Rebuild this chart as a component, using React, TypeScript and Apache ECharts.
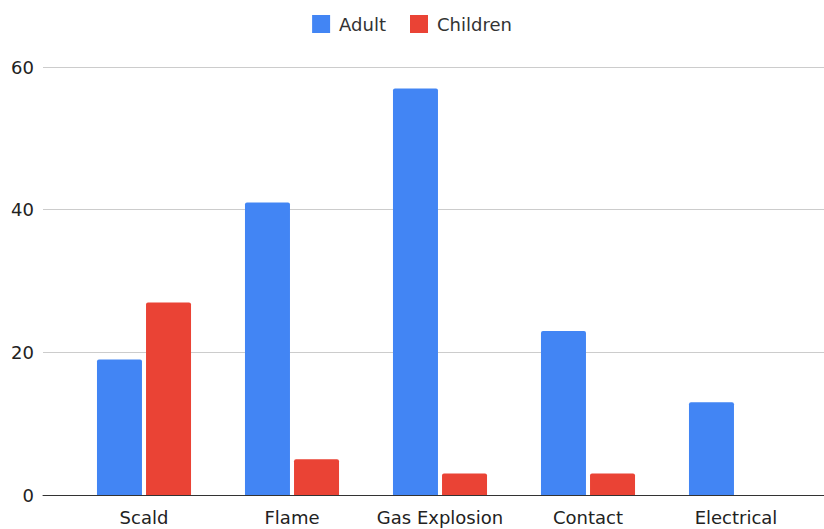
import React, { useEffect, useRef } from "react";
import * as echarts from "echarts";

const categories = ["Scald", "Flame", "Gas Explosion", "Contact", "Electrical"];
const adult = [19, 41, 57, 23, 13];
const children = [27, 5, 3, 3, 0];
const yTicks = [0, 20, 40, 60];

export default function App() {
  const ref = useRef<HTMLDivElement>(null);
  useEffect(() => {
    if (!ref.current) return;
    const chart = echarts.init(ref.current, undefined, { renderer: "svg" });
    const font = "DejaVu Sans";
    chart.setOption({
      animation: false,
      backgroundColor: "#ffffff",
      textStyle: { fontFamily: font },
      legend: {
        top: 10,
        left: "center",
        itemWidth: 18,
        itemHeight: 18,
        itemGap: 24,
        icon: "rect",
        textStyle: { fontSize: 18, color: "#333", fontFamily: font, padding: [0, 0, 0, 4] },
        data: ["Adult", "Children"],
      },
      grid: [
        { left: 43, right: 0, top: 67, bottom: 34, containLabel: false },
        { left: 70, right: 14, top: 67, bottom: 34, containLabel: false },
      ],
      xAxis: [
        {
          gridIndex: 0,
          type: "value",
          min: 0,
          max: 1,
          axisLine: { show: true, onZero: false, lineStyle: { color: "#333", width: 1 } },
          axisTick: { show: false },
          axisLabel: { show: false },
          splitLine: { show: false },
        },
        {
          gridIndex: 1,
          type: "category",
          data: categories,
          axisLine: { show: false },
          axisTick: { show: false },
          axisLabel: { fontSize: 18, color: "#222", margin: 13, fontFamily: font, interval: 0 },
        },
      ],
      yAxis: [
        {
          gridIndex: 0,
          type: "value",
          min: yTicks[0],
          max: yTicks[yTicks.length - 1],
          interval: 20,
          axisLine: { show: false },
          axisTick: { show: false },
          axisLabel: { fontSize: 18, color: "#222", margin: 9, fontFamily: font },
          splitLine: { lineStyle: { color: "#cccccc", width: 1 } },
        },
        {
          gridIndex: 1,
          type: "value",
          min: yTicks[0],
          max: yTicks[yTicks.length - 1],
          interval: 20,
          show: false,
          splitLine: { show: false },
        },
      ],
      series: [
        {
          name: "Adult",
          type: "bar",
          xAxisIndex: 1,
          yAxisIndex: 1,
          data: adult,
          barWidth: 45,
          barGap: "9%",
          itemStyle: { color: "#4285F4", borderRadius: [2, 2, 0, 0] },
        },
        {
          name: "Children",
          type: "bar",
          xAxisIndex: 1,
          yAxisIndex: 1,
          data: children,
          barWidth: 45,
          barGap: "9%",
          itemStyle: { color: "#EA4335", borderRadius: [2, 2, 0, 0] },
        },
      ],
    });
    return () => chart.dispose();
  }, []);
  return (
    <div
      ref={ref}
      style={{ position: "fixed", left: 0, top: 0, width: 824, height: 529, background: "#fff" }}
    />
  );
}
